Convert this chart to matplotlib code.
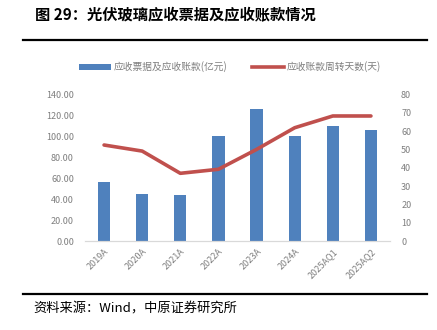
import matplotlib
matplotlib.use("Agg")
import matplotlib.pyplot as plt
from matplotlib.lines import Line2D
from matplotlib.patches import Patch
import numpy as np

plt.rcParams['font.family'] = ['Noto Sans CJK SC', 'DejaVu Sans']

# data
categories = ["2019A", "2020A", "2021A", "2022A", "2023A", "2024A", "2025AQ1", "2025AQ2"]
receivables = [56.8, 44.7, 43.8, 100.3, 125.7, 100.0, 109.8, 105.7]   # 亿元
turnover_days = [52.4, 49.1, 37.0, 39.2, 50.0, 61.8, 68.2, 68.2]     # 天

bar_color = "#4f81bd"
line_color = "#c0504d"
tick_color = "#7f7f7f"

fig = plt.figure(figsize=(4.37, 3.30), dpi=100)

# title and rules
fig.text(35 / 437, 1 - 15 / 330, "图 29：光伏玻璃应收票据及应收账款情况",
         fontsize=11, fontweight="bold", va="center", ha="left")
fig.add_artist(Line2D([23 / 437, 427 / 437], [1 - 40 / 330, 1 - 40 / 330],
                      color="black", lw=1.6, transform=fig.transFigure))
fig.add_artist(Line2D([23 / 437, 427 / 437], [1 - 294 / 330, 1 - 294 / 330],
                      color="black", lw=1.6, transform=fig.transFigure))
fig.text(33 / 437, 1 - 309 / 330, "资料来源：Wind，中原证券研究所",
         fontsize=9.5, va="center", ha="left")

ax = fig.add_axes([85 / 437, 88.7 / 330, 305 / 437, 147 / 330])
x = np.arange(len(categories))
ax.bar(x, receivables, width=0.32, color=bar_color, zorder=2)
ax.set_xlim(-0.5, len(categories) - 0.5)
ax.set_ylim(0, 140)
ax.set_yticks(np.arange(0, 141, 20))
ax.set_yticklabels(["%.2f" % v for v in np.arange(0, 141, 20)])
ax.set_xticks(x)
ax.set_xticklabels(categories, rotation=45, ha="right", rotation_mode="anchor")

ax2 = ax.twinx()
ax2.plot(x, turnover_days, color=line_color, lw=2.6, solid_capstyle="round", zorder=3)
ax2.set_ylim(0, 80)
ax2.set_yticks(np.arange(0, 81, 10))

for a in (ax, ax2):
    for s in ("top", "left", "right"):
        a.spines[s].set_visible(False)
    a.spines["bottom"].set_color("#d9d9d9")
    a.tick_params(length=0, labelsize=6.5, colors=tick_color, pad=8)
ax.tick_params(axis="x", pad=4)

handles = [Patch(facecolor=bar_color, edgecolor="none"),
           Line2D([0], [0], color=line_color, lw=2.6)]
fig.legend(handles, ["应收票据及应收账款(亿元)", "应收账款周转天数(天)"],
           loc="center", bbox_to_anchor=(230 / 437, 1 - 67 / 330), ncol=2,
           frameon=False, fontsize=7, labelcolor=tick_color,
           handlelength=3.3, handleheight=0.45, handletextpad=0.3, columnspacing=2.5)

fig.savefig("out.png", dpi=100)
